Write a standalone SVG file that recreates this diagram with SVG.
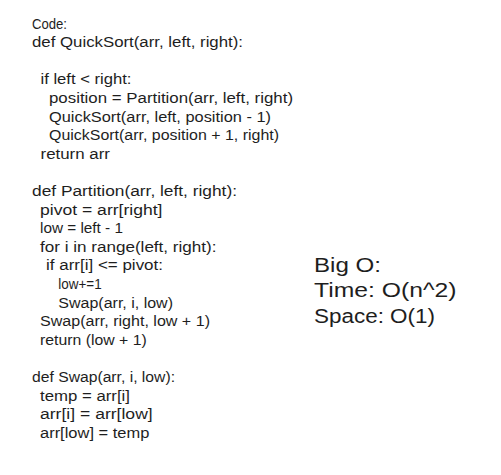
<svg xmlns="http://www.w3.org/2000/svg" width="501" height="475" viewBox="0 0 501 475">
<style>
.c{font-family:"Liberation Sans","DejaVu Sans",sans-serif;font-size:14px;fill:#1e1e1e}
.b{font-family:"Liberation Sans","DejaVu Sans",sans-serif;font-size:20px;fill:#1e1e1e}
</style>
<rect width="501" height="475" fill="#ffffff"/>
<g id="code">
<text class="c" x="32" y="28.5" textLength="35" lengthAdjust="spacingAndGlyphs">Code:</text>
<text class="c" x="32" y="47.1" textLength="211" lengthAdjust="spacingAndGlyphs">def QuickSort(arr, left, right):</text>
<text class="c" x="40.5" y="84.3" textLength="91" lengthAdjust="spacingAndGlyphs">if left &lt; right:</text>
<text class="c" x="49" y="102.9" textLength="244" lengthAdjust="spacingAndGlyphs">position = Partition(arr, left, right)</text>
<text class="c" x="49" y="121.5" textLength="222" lengthAdjust="spacingAndGlyphs">QuickSort(arr, left, position - 1)</text>
<text class="c" x="49" y="140.1" textLength="230" lengthAdjust="spacingAndGlyphs">QuickSort(arr, position + 1, right)</text>
<text class="c" x="40.5" y="158.7" textLength="69.5" lengthAdjust="spacingAndGlyphs">return arr</text>
<text class="c" x="32" y="195.9" textLength="205" lengthAdjust="spacingAndGlyphs">def Partition(arr, left, right):</text>
<text class="c" x="40" y="214.5" textLength="122.5" lengthAdjust="spacingAndGlyphs">pivot = arr[right]</text>
<text class="c" x="40" y="233.1" textLength="83" lengthAdjust="spacingAndGlyphs">low = left - 1</text>
<text class="c" x="40" y="251.7" textLength="176.5" lengthAdjust="spacingAndGlyphs">for i in range(left, right):</text>
<text class="c" x="46" y="270.3" textLength="117" lengthAdjust="spacingAndGlyphs">if arr[i] &lt;= pivot:</text>
<text class="c" x="58.3" y="288.9" textLength="43.4" lengthAdjust="spacingAndGlyphs">low+=1</text>
<text class="c" x="58.3" y="307.5" textLength="114.7" lengthAdjust="spacingAndGlyphs">Swap(arr, i, low)</text>
<text class="c" x="40" y="326.1" textLength="170" lengthAdjust="spacingAndGlyphs">Swap(arr, right, low + 1)</text>
<text class="c" x="40" y="344.7" textLength="106.7" lengthAdjust="spacingAndGlyphs">return (low + 1)</text>
<text class="c" x="32" y="381.9" textLength="143" lengthAdjust="spacingAndGlyphs">def Swap(arr, i, low):</text>
<text class="c" x="40" y="400.5" textLength="90" lengthAdjust="spacingAndGlyphs">temp = arr[i]</text>
<text class="c" x="40" y="419.1" textLength="112.7" lengthAdjust="spacingAndGlyphs">arr[i] = arr[low]</text>
<text class="c" x="40" y="437.7" textLength="109.3" lengthAdjust="spacingAndGlyphs">arr[low] = temp</text>
</g>
<g id="bigo">
<text class="b" x="314" y="271.5" textLength="67" lengthAdjust="spacingAndGlyphs">Big O:</text>
<text class="b" x="314" y="297" textLength="142.5" lengthAdjust="spacingAndGlyphs">Time: O(n^2)</text>
<text class="b" x="314" y="322.5" textLength="121" lengthAdjust="spacingAndGlyphs">Space: O(1)</text>
</g>
</svg>
